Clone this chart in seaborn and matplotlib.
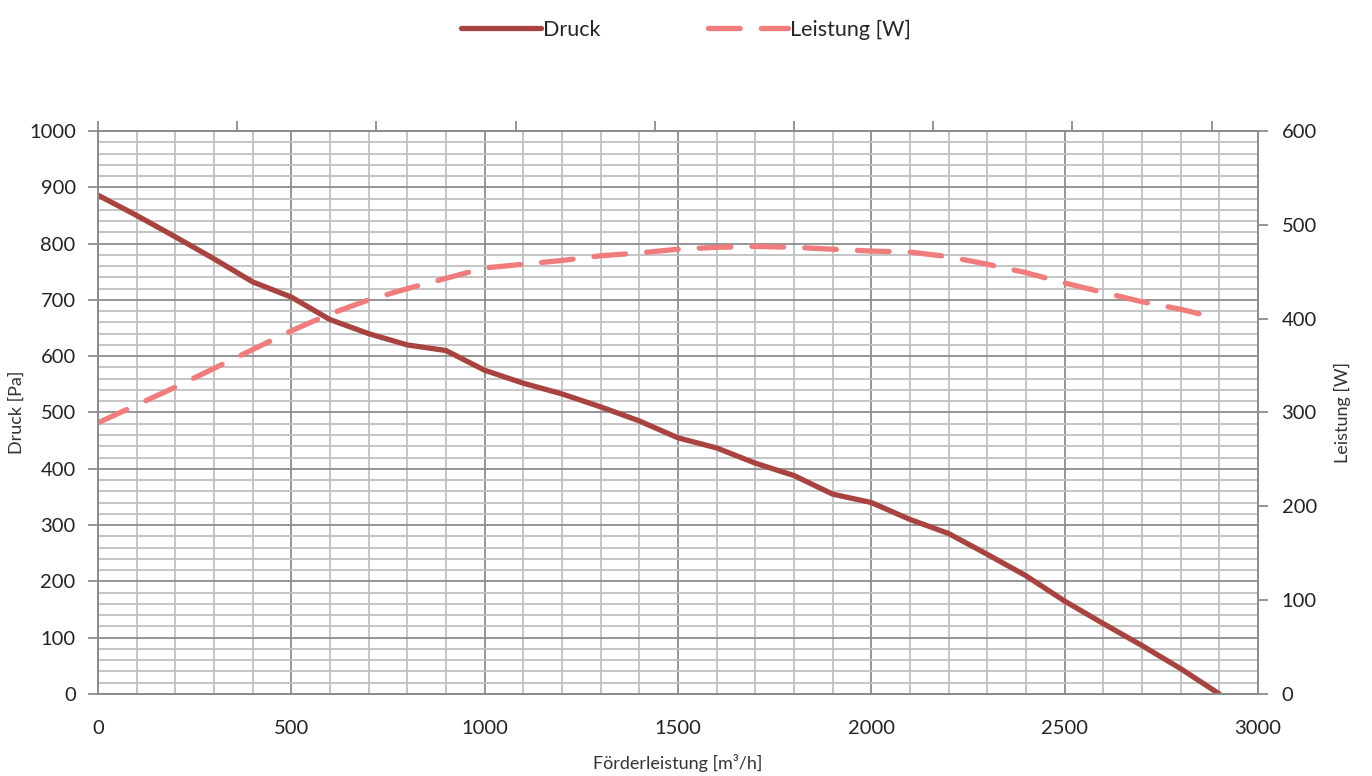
import pandas as pd
import seaborn as sns
import matplotlib.pyplot as plt
from matplotlib.ticker import MultipleLocator

# Förderleistung [m3/h]
flow = [0, 100, 200, 300, 400, 500, 600, 700, 800, 900, 1000,
        1100, 1200, 1300, 1400, 1500, 1600, 1700, 1800, 1900, 2000,
        2100, 2200, 2300, 2400, 2500, 2600, 2700, 2800, 2900]
druck = [886, 850, 812, 773, 732, 705, 665, 640, 620, 610, 575,
         552, 533, 510, 485, 455, 437, 410, 388, 355, 340,
         310, 285, 248, 210, 165, 125, 86, 45, 0]
leistung = [289, 308, 327, 347, 367, 387, 405, 420, 432, 443, 454,
            458, 462, 467, 470, 474, 476, 477, 476, 474, 472,
            471, 466, 458, 449, 438, 428, 418, 410, 400]

df = pd.DataFrame({'flow': flow, 'Druck': druck, 'Leistung': leistung})

sns.set_style('white')
plt.rcParams['font.family'] = ['Lato', 'DejaVu Sans']

c_druck = '#A8433F'
c_leist = '#F07C7C'
grid_major = '#8C8C8C'
grid_minor = '#C0C0C0'

fig = plt.figure(figsize=(13.72, 7.76), dpi=100)
ax = fig.add_axes([0.0714, 0.1057, 0.8455, 0.7255])
ax2 = ax.twinx()

sns.lineplot(data=df, x='flow', y='Druck', ax=ax, color=c_druck,
             linewidth=3.8, solid_capstyle='round', label='Druck', legend=False)
sns.lineplot(data=df, x='flow', y='Leistung', ax=ax2, color=c_leist,
             linewidth=3.8, dash_capstyle='round', label='Leistung [W]', legend=False)
ax2.lines[0].set_dashes([6, 4])

ax.set_xlim(0, 3000)
ax.set_ylim(0, 1000)
ax2.set_ylim(0, 600)

ax.xaxis.set_major_locator(MultipleLocator(500))
ax.xaxis.set_minor_locator(MultipleLocator(100))
ax.yaxis.set_major_locator(MultipleLocator(100))
ax.yaxis.set_minor_locator(MultipleLocator(20))
ax2.yaxis.set_major_locator(MultipleLocator(100))

ax.grid(which='major', color=grid_major, linewidth=1.3)
ax.grid(which='minor', color=grid_minor, linewidth=1.3)
ax.set_axisbelow(True)
ax2.grid(False)

for a in (ax, ax2):
    for s in a.spines.values():
        s.set_color(grid_major)
        s.set_linewidth(1.3)

ax.tick_params(axis='x', which='major', direction='out', length=7, pad=12,
               width=1.3, color=grid_major, labelsize=14.5, labelcolor='#222222')
ax.tick_params(axis='y', which='major', direction='out', length=7, pad=9,
               width=1.3, color=grid_major, labelsize=14.5, labelcolor='#222222')
ax.tick_params(axis='both', which='minor', length=0)
ax2.tick_params(axis='y', direction='out', length=7, width=1.3, pad=10,
                color=grid_major, labelsize=14.5, labelcolor='#222222')

# secondary horizontal axis ticks along the top (no labels)
top = ax.secondary_xaxis('top')
top.set_xticks([i * 360 for i in range(9)])
top.set_xticklabels([])
top.tick_params(direction='out', length=7, width=1.3, color=grid_major)
top.spines['top'].set_visible(False)

ax.set_xlabel('Förderleistung [m³/h]', fontsize=13, color='#333333', labelpad=12)
ax.set_ylabel('Druck [Pa]', fontsize=13, color='#333333', labelpad=3)
ax2.set_ylabel('Leistung [W]', fontsize=13, color='#333333', labelpad=12)

handles = ax.get_lines()[:1] + ax2.get_lines()[:1]
fig.legend(handles, ['Druck', 'Leistung [W]'], loc='upper center',
           bbox_to_anchor=(0.5, 1.0), ncol=2, frameon=False, fontsize=15.5,
           handlelength=3.7, handletextpad=0.1, columnspacing=5)

fig.savefig('out.png', dpi=100)
